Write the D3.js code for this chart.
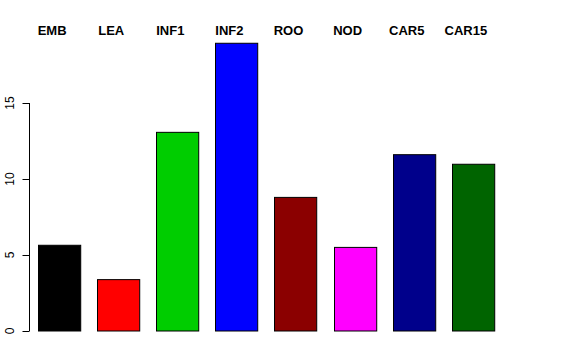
<!DOCTYPE html>
<html><head><meta charset="utf-8">
<script src="https://cdn.jsdelivr.net/npm/d3@7"></script>
<style>body{margin:0;background:#fff}svg{display:block}text{font-family:"Liberation Sans",Arial,sans-serif}</style>
</head><body>
<script>
const categories = ["EMB","LEA","INF1","INF2","ROO","NOD","CAR5","CAR15"];
const values = [5.64, 3.38, 13.07, 18.93, 8.79, 5.5, 11.6, 10.97];
const colors = ["#000000","#FF0000","#00CD00","#0000FF","#8B0000","#FF00FF","#00008B","#006400"];
const yTicks = [0,5,10,15];

const W=576,H=360;
const svg=d3.select("body").append("svg").attr("width",W).attr("height",H);
const x=d3.scaleBand().domain(categories).range([38,494]).paddingInner(0.2857).paddingOuter(0);
const y=d3.scaleLinear().domain([0,15]).range([331,103]);

svg.selectAll("rect.bar").data(categories).join("rect")
  .attr("class","bar")
  .attr("x",d=>Math.round(x(d))+0.5)
  .attr("y",(d,i)=>y(values[i]))
  .attr("width",x.bandwidth())
  .attr("height",(d,i)=>y(0)-y(values[i]))
  .attr("fill",(d,i)=>colors[i])
  .attr("stroke","#000").attr("stroke-width",1);

const ax=svg.append("g").attr("transform","translate(29.5,0)");
ax.append("line").attr("x1",0).attr("x2",0).attr("y1",y(15)).attr("y2",y(0)).attr("stroke","#000");
ax.selectAll("line.t").data(yTicks).join("line").attr("class","t")
  .attr("x1",-7).attr("x2",0).attr("y1",d=>Math.round(y(d))+0.5).attr("y2",d=>Math.round(y(d))+0.5).attr("stroke","#000");
ax.selectAll("text").data(yTicks).join("text")
  .attr("transform",d=>`translate(-16,${y(d)}) rotate(-90)`)
  .attr("text-anchor","middle").attr("font-size",12).text(d=>d);

svg.selectAll("text.lab").data(categories).join("text").attr("class","lab")
  .attr("x",d=>x(d)+x.bandwidth()/2-7).attr("y",35)
  .attr("text-anchor","middle").attr("font-size",13).attr("font-weight","bold").text(d=>d);
</script>
</body></html>
